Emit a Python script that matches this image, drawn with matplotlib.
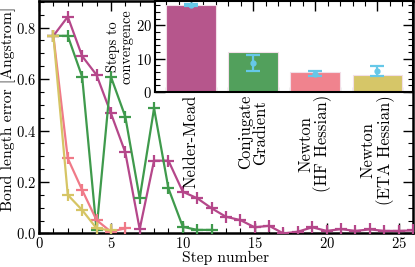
import matplotlib
matplotlib.use("Agg")
import matplotlib.pyplot as plt
from matplotlib.ticker import MultipleLocator

plt.rcParams['font.family'] = ['cmr10', 'DejaVu Serif']
plt.rcParams['mathtext.fontset'] = 'cm'
plt.rcParams['axes.formatter.use_mathtext'] = True

# ---- data ----
steps_nm = list(range(1, 27))
err_nm = [0.768, 0.842, 0.689, 0.616, 0.467, 0.315, 0.017, 0.283, 0.283, 0.162,
          0.137, 0.098, 0.065, 0.052, 0.024, 0.030, 0.000, 0.007, 0.024, 0.010,
          0.017, 0.010, 0.016, 0.010, 0.010, 0.012]
steps_cg = list(range(1, 13))
err_cg = [0.768, 0.768, 0.609, 0.014, 0.609, 0.454, 0.137, 0.486, 0.175, 0.026,
          0.014, 0.014]
steps_hf = list(range(1, 7))
err_hf = [0.768, 0.292, 0.169, 0.052, 0.007, 0.020]
steps_eta = list(range(1, 6))
err_eta = [0.768, 0.150, 0.091, 0.020, 0.012]

methods = ["Nelder-Mead", "Conjugate\nGradient", "Newton\n(HF Hessian)", "Newton\n(ETA Hessian)"]
bar_steps = [26, 12, 6, 5]
err_mean = [26.0, 8.8, 5.5, 6.3]
err_sd = [0.3, 2.4, 0.7, 1.5]

c_nm = "#b5478a"
c_cg = "#3f9a4c"
c_hf = "#f07a88"
c_eta = "#d6c565"
bar_colors = ["#b6568c", "#52a05c", "#f0838e", "#d6c668"]
c_err = "#66c8e8"

fig = plt.figure(figsize=(4.15, 2.67), dpi=100)
ax = fig.add_axes([0.094, 0.1255, 0.901, 0.8705])

kw = dict(marker='+', markersize=9, markeredgewidth=1.6, linewidth=1.6)
ax.plot(steps_nm, err_nm, color=c_nm, **kw, zorder=3)
ax.plot(steps_cg, err_cg, color=c_cg, **kw, zorder=3)
ax.plot(steps_hf, err_hf, color=c_hf, **kw, zorder=4)
ax.plot(steps_eta, err_eta, color=c_eta, **kw, zorder=4)

ax.set_xlim(0, 26)
ax.set_ylim(0, 0.903)
ax.xaxis.set_major_locator(MultipleLocator(5))
ax.xaxis.set_minor_locator(MultipleLocator(1))
ax.yaxis.set_major_locator(MultipleLocator(0.2))
ax.yaxis.set_minor_locator(MultipleLocator(0.05))
ax.tick_params(which='both', direction='in', top=True, right=True, labelsize=10.5, pad=2)
ax.tick_params(which='major', length=7, width=1.0)
ax.tick_params(which='minor', length=3.5, width=0.8)
for s in ax.spines.values():
    s.set_linewidth(1.8)
ax.set_xlabel("Step number", fontsize=11.2, labelpad=0)
ax.set_ylabel("Bond length error [Angstrom]", fontsize=11.3)
ax.yaxis.set_label_coords(-0.062, 0.535)

# ---- inset ----
ins = fig.add_axes([0.3735, 0.655, 0.6215, 0.3415])
x = list(range(len(methods)))
ins.bar(x, bar_steps, width=0.8, color=bar_colors, edgecolor="#f2dfe8", linewidth=0.8, zorder=2)
ins.errorbar(x, err_mean, yerr=err_sd, fmt='o', color=c_err, markersize=3.5,
             elinewidth=1.6, capsize=5, capthick=1.6, zorder=3)
ins.set_xlim(-0.58, 3.57)
ins.set_ylim(0, 27.3)
ins.set_xticks(x)
ins.set_xticklabels(methods, rotation=90, fontsize=12, va='top', ha='center', linespacing=1.0)
ins.xaxis.set_minor_locator(MultipleLocator(0.2))
ins.yaxis.set_major_locator(MultipleLocator(10))
ins.yaxis.set_minor_locator(MultipleLocator(2))
ins.tick_params(which='both', direction='in', top=True, right=True, labelsize=10.5, pad=2)
ins.tick_params(axis='x', which='major', labelsize=12)
ins.tick_params(which='major', length=7, width=1.0)
ins.tick_params(which='minor', length=3.5, width=0.8)
for s in ins.spines.values():
    s.set_linewidth(1.5)
ins.set_ylabel("Steps to\nconvergence", fontsize=10.3, linespacing=1.0)
ins.yaxis.set_label_coords(-0.082, 0.5)

fig.savefig("out.png", dpi=100)
